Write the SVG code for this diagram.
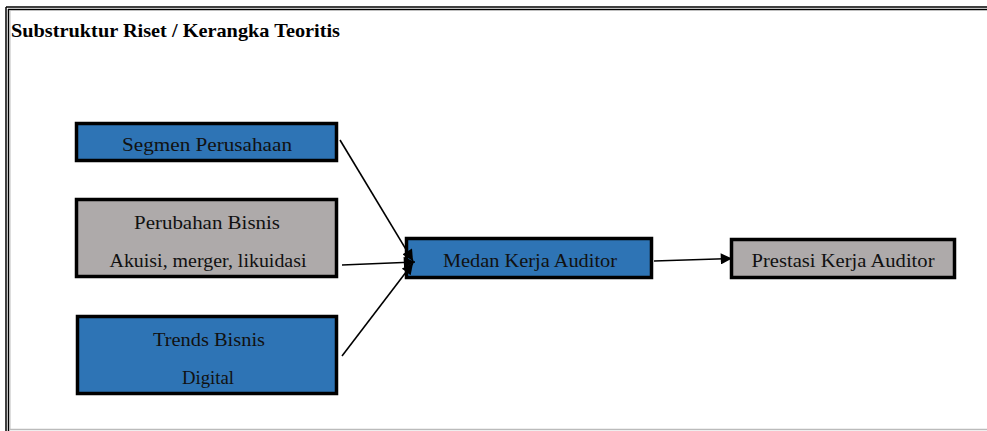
<svg xmlns="http://www.w3.org/2000/svg" width="987" height="431" viewBox="0 0 987 431">
<defs>
<style>
.blue{fill:#2E74B5;stroke:#000;stroke-width:3.5}
.gray{fill:#AEAAAA;stroke:#000;stroke-width:3.5}
.lbl{font-family:"Liberation Serif","Times New Roman",serif;font-size:19px;fill:#111;text-anchor:middle}
.title{font-family:"Liberation Serif","Times New Roman",serif;font-size:19px;font-weight:bold;fill:#000}
.con{stroke:#000;stroke-width:1.6;fill:none;marker-end:url(#arr)}
</style>
<marker id="arr" viewBox="0 0 10 10" refX="10" refY="5" markerWidth="7.5" markerHeight="7" orient="auto" markerUnits="strokeWidth">
<path d="M0,0 L10,5 L0,10 z" fill="#000"/>
</marker>
</defs>
<rect width="987" height="431" fill="#fff"/>
<g id="frame">
<line x1="6" y1="7" x2="987" y2="7" stroke="#000" stroke-width="1.5"/>
<line x1="8" y1="9.5" x2="987" y2="9.5" stroke="#000" stroke-width="1.5"/>
<line x1="6" y1="7" x2="6" y2="431" stroke="#000" stroke-width="1.5"/>
<line x1="8.5" y1="9" x2="8.5" y2="431" stroke="#000" stroke-width="1.5"/>
<line x1="10" y1="10" x2="10" y2="430" stroke="#bbb" stroke-width="1"/>
<line x1="10" y1="429.5" x2="987" y2="429.5" stroke="#bbb" stroke-width="1.5"/>
</g>
<text class="title" x="11" y="37" textLength="329" lengthAdjust="spacingAndGlyphs">Substruktur Riset / Kerangka Teoritis</text>
<g id="segmen">
<rect class="blue" x="76.5" y="123.5" width="260" height="37"/>
<text class="lbl" x="207" y="151" textLength="170" lengthAdjust="spacingAndGlyphs">Segmen Perusahaan</text>
</g>
<g id="perubahan">
<rect class="gray" x="76.5" y="199.5" width="260" height="77"/>
<text class="lbl" x="207" y="229" textLength="146" lengthAdjust="spacingAndGlyphs">Perubahan Bisnis</text>
<text class="lbl" x="208" y="267" textLength="197" lengthAdjust="spacingAndGlyphs">Akuisi, merger, likuidasi</text>
</g>
<g id="trends">
<rect class="blue" x="77.5" y="316.5" width="259" height="77"/>
<text class="lbl" x="209" y="346" textLength="112" lengthAdjust="spacingAndGlyphs">Trends Bisnis</text>
<text class="lbl" x="208" y="384" textLength="52" lengthAdjust="spacingAndGlyphs">Digital</text>
</g>
<g id="medan">
<rect class="blue" x="406.5" y="238.5" width="245" height="39"/>
<text class="lbl" x="530" y="267" textLength="174" lengthAdjust="spacingAndGlyphs">Medan Kerja Auditor</text>
</g>
<g id="prestasi">
<rect class="gray" x="731.5" y="239.5" width="223" height="38"/>
<text class="lbl" x="843" y="267" textLength="183" lengthAdjust="spacingAndGlyphs">Prestasi Kerja Auditor</text>
</g>
<g id="connectors">
<line class="con" x1="340" y1="140" x2="413" y2="261"/>
<line class="con" x1="342" y1="265" x2="415" y2="262"/>
<line class="con" x1="342" y1="356" x2="413" y2="263"/>
<line class="con" x1="654" y1="261" x2="732" y2="258.5"/>
</g>
</svg>
